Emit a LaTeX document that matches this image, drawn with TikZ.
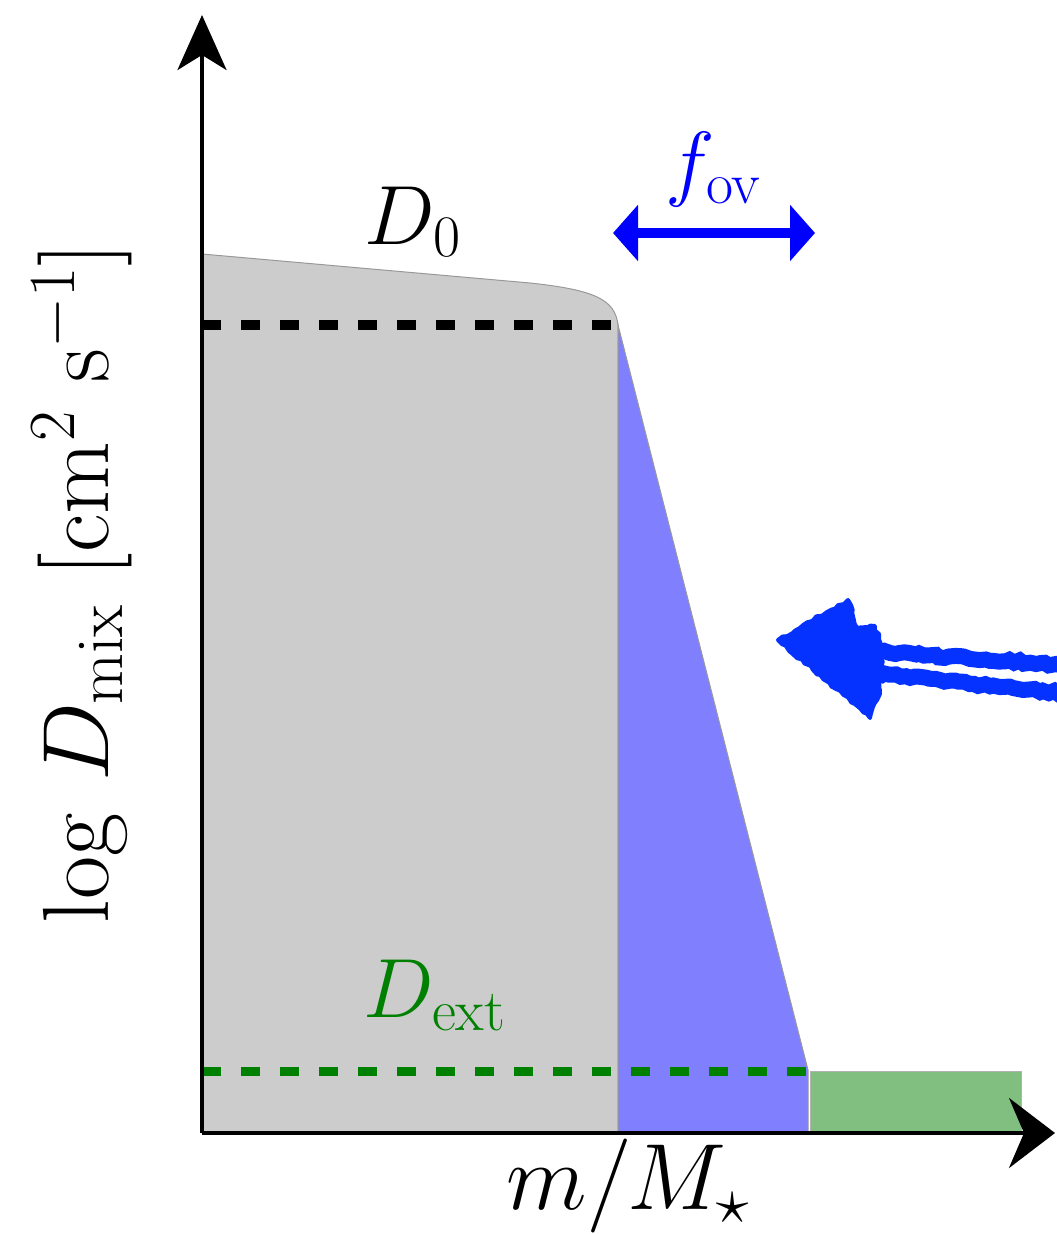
\documentclass[tikz,border=0pt]{standalone}
\usepackage{fix-cm}
\usepackage{amsmath}
\usetikzlibrary{arrows.meta,decorations.pathmorphing}
\definecolor{dextgreen}{RGB}{0,128,0}
\definecolor{fovblue}{RGB}{0,0,255}
\definecolor{handblue}{RGB}{5,50,255}
\definecolor{corefill}{RGB}{204,204,204}
\definecolor{ovfill}{RGB}{128,128,255}
\definecolor{envfill}{RGB}{128,191,128}
\newcommand{\lblsize}{\fontsize{42}{46}\selectfont}
\newcommand{\axsize}{\fontsize{47}{52}\selectfont}

\begin{document}
\begin{tikzpicture}[x=0.5pt, y=0.5pt]
    \useasboundingbox (0,0) rectangle (1056,-1234);

    % mixing profile regions
    \filldraw[fill=corefill, draw=gray!80, line width=0.5pt]
        (202,-254) -- (530,-283) .. controls (596,-290) and (615,-300) .. (618,-325)
        -- (618,-1133) -- (202,-1133) -- cycle;
    \filldraw[fill=ovfill, draw=gray!80, line width=0.5pt]
        (618,-325) -- (808,-1070) -- (808,-1133) -- (618,-1133) -- cycle;
    \filldraw[fill=envfill, draw=gray!60, line width=0.5pt]
        (810,-1071) rectangle (1021,-1133);

    % levels
    \draw[line width=5pt, dash pattern=on 9.5pt off 10pt] (202,-325) -- (616,-325);
    \draw[dextgreen, line width=4.5pt, dash pattern=on 9.5pt off 10pt] (202,-1071) -- (806,-1071);

    % axes
    \coordinate (origin) at (202,-1133);
    \coordinate (ytip) at (202,-15);
    \coordinate (xtip) at (1055,-1133);
    \draw[line width=2pt, -{Stealth[length=27.5pt, width=24.5pt, inset=7.5pt]}] (origin) -- (ytip);
    \draw[line width=2pt, -{Stealth[length=23pt, width=35pt, inset=7.5pt]}] (origin) -- (xtip);

    % overshoot width
    \coordinate (fovL) at (613,-233);
    \coordinate (fovR) at (815,-233);
    \draw[fovblue, line width=5pt, {Triangle[length=12.5pt, width=27.5pt]}-{Triangle[length=12.5pt, width=27.5pt]}]
        (fovL) -- (fovR);

    % labels
    \node[font=\lblsize] (dzero) at (413,-222) {$D_0$};
    \node[font=\lblsize, text=fovblue] (fov) at (714,-170) {$f_{\rm ov}$};
    \node[font=\lblsize, text=dextgreen] (dext) at (435,-995) {$D_{\rm ext}$};
    \node[font=\axsize, inner sep=0pt] (xlab) at (628,-1186) {$m/M_\star$};
    \node[font=\axsize, rotate=90] (ylab) at (82,-583)
        {$\log\, D_{\rm mix}\ [{\rm cm}^2\ {\rm s}^{-1}]$};

    % hand-drawn pointer
    \begin{scope}[handblue, decoration={random steps, segment length=2.5pt, amplitude=0.8pt}]
        \filldraw[decorate, line width=2pt, line join=round]
            (778,-640) -- (848,-600) -- (857,-628) -- (875,-626) -- (882,-647)
            -- (880,-690) -- (870,-718) -- cycle;
        \draw[decorate, line width=8pt] (870,-651) -- (1062,-665);
        \draw[decorate, line width=8pt] (870,-673) -- (1062,-693);
    \end{scope}
\end{tikzpicture}
\end{document}
